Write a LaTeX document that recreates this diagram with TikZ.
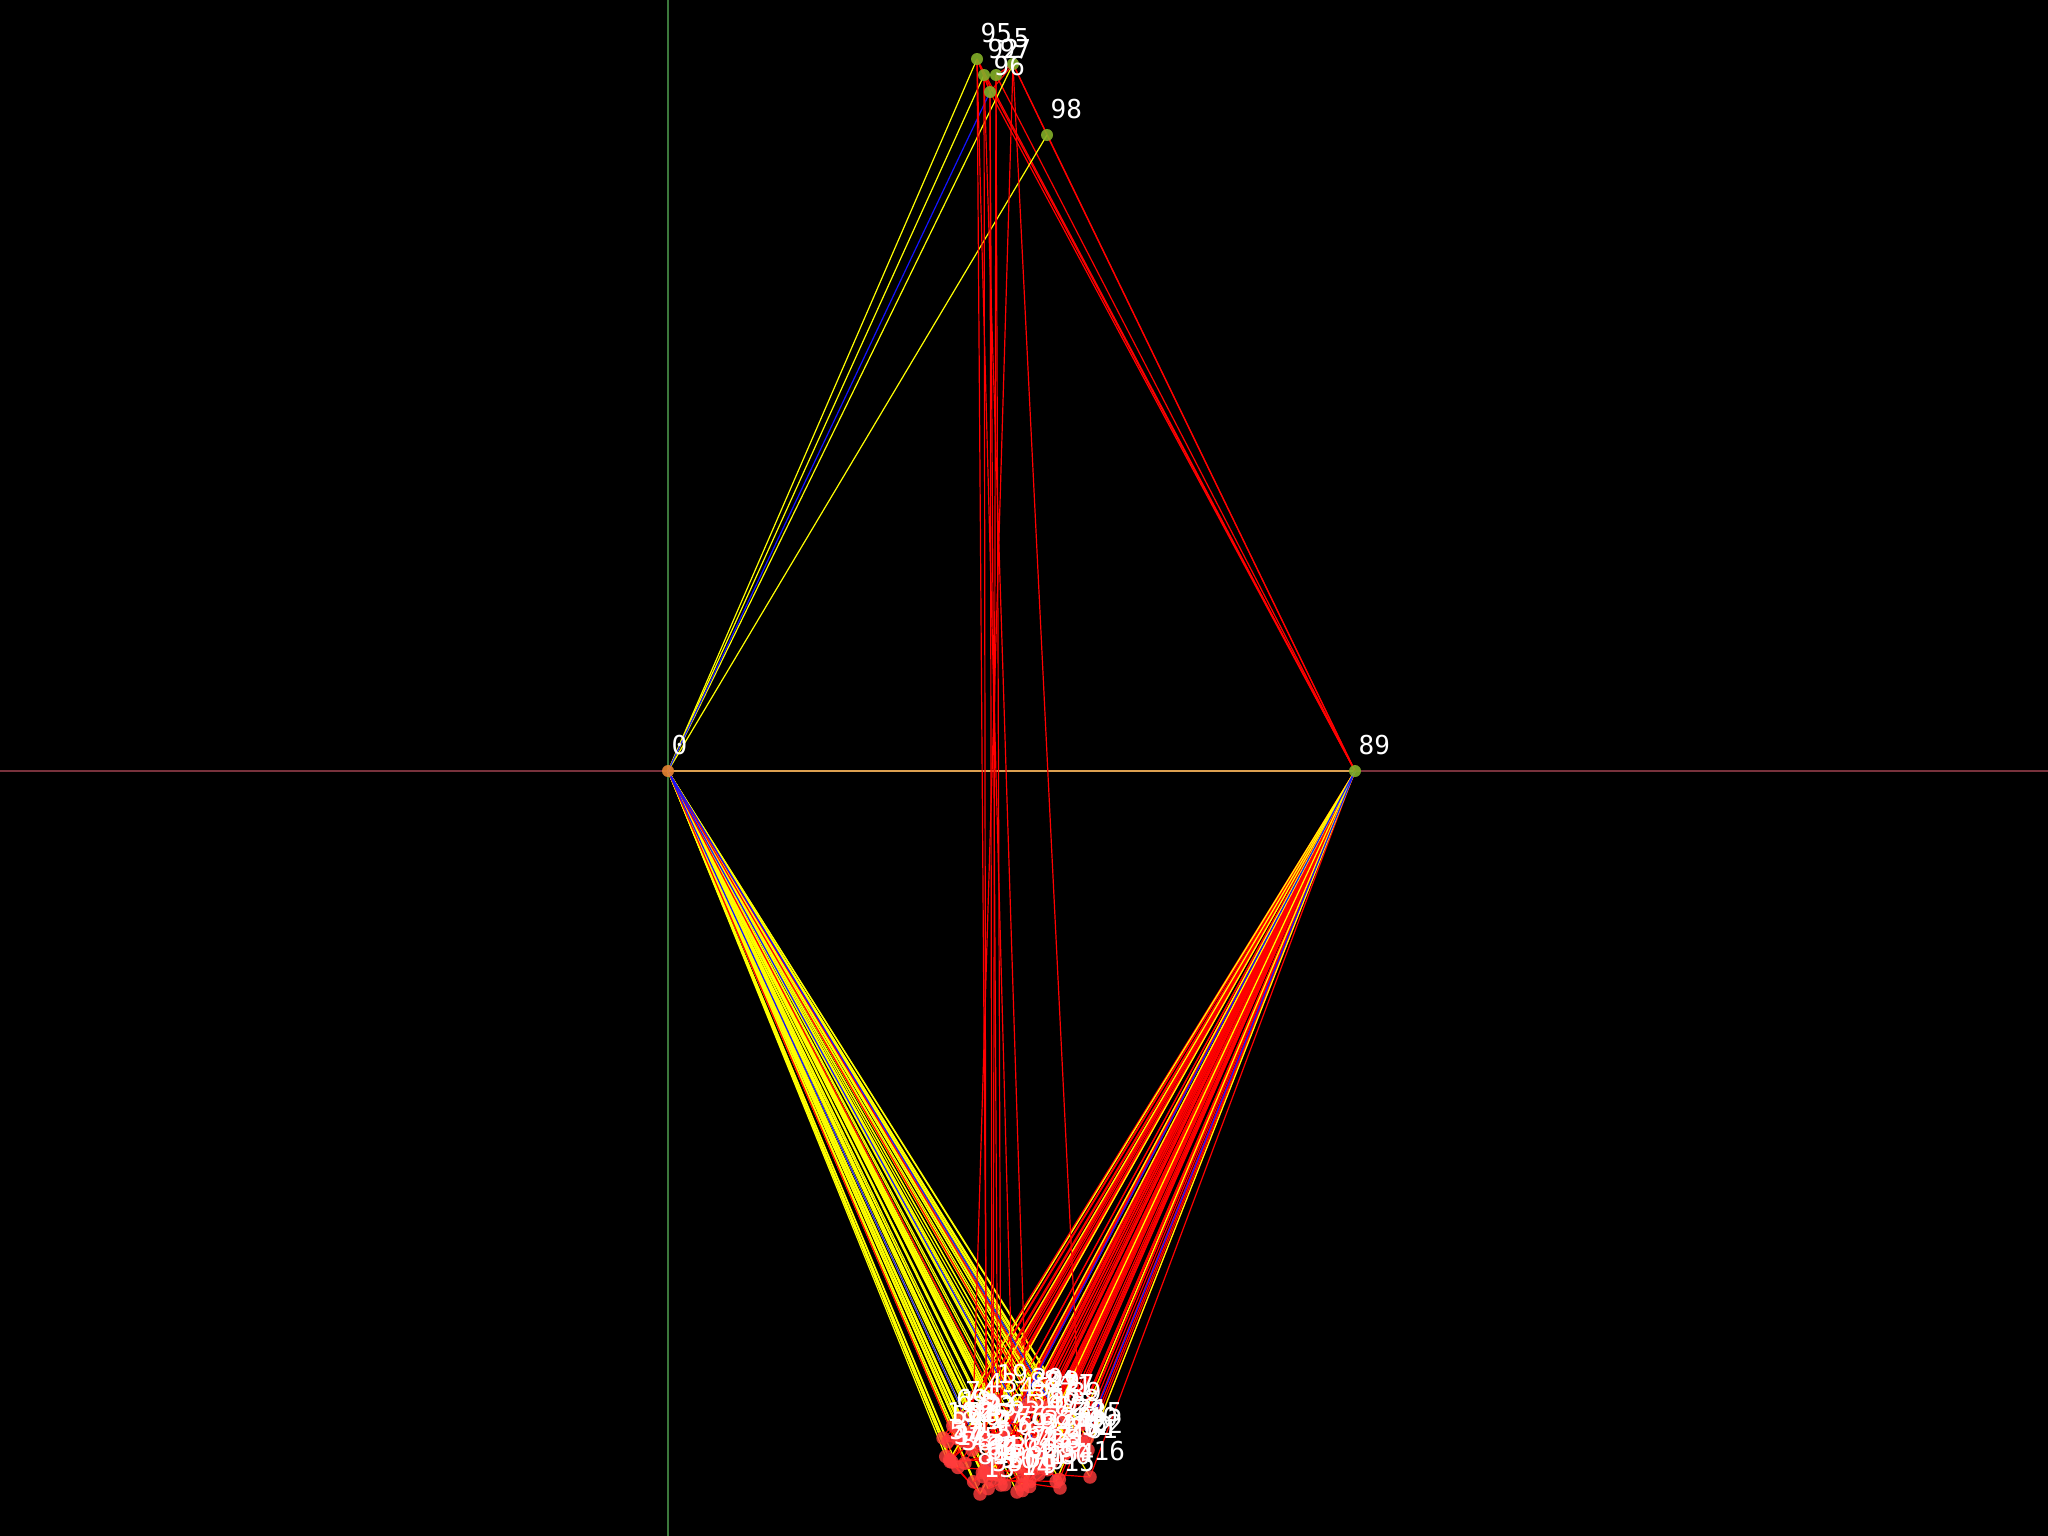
\documentclass[tikz,border=0pt]{standalone}
\usepackage{fontspec}
\newfontfamily\lblfont{DejaVu Sans Mono}
\definecolor{axh}{RGB}{120,50,60}
\definecolor{axv}{RGB}{60,120,60}
\definecolor{axe}{RGB}{220,160,80}
\definecolor{cyel}{RGB}{255,255,0}
\definecolor{cred}{RGB}{255,0,0}
\definecolor{cblue}{RGB}{20,20,255}
\definecolor{cnode}{RGB}{255,60,60}
\definecolor{ctop}{RGB}{130,175,40}
\definecolor{corg}{RGB}{230,130,50}
\pgfdeclarelayer{bg}
\pgfdeclarelayer{edges}
\pgfsetlayers{bg,edges,main}
\begin{document}
\begin{tikzpicture}[x=0.01cm,y=-0.01cm,
  ln/.style={line width=0.34pt},
  ey/.style={ln,draw=cyel},
  er/.style={ln,draw=cred},
  eb/.style={ln,draw=cblue},
  bnode/.style={circle,fill=cnode,fill opacity=0.8,inner sep=0pt,minimum size=0.135cm},
  tnode/.style={circle,fill=ctop,fill opacity=0.9,inner sep=0pt,minimum size=0.12cm},
  onode/.style={circle,fill=corg,fill opacity=0.9,inner sep=0pt,minimum size=0.12cm},
  lbl/.style={anchor=base west,inner sep=0pt,text=white,font=\lblfont\fontsize{7.4}{8}\selectfont}]
\begin{pgfonlayer}{bg}
\fill[black] (0,0) rectangle (2048,1536);
\end{pgfonlayer}
\useasboundingbox (0,0) rectangle (2048,1536);
% axis nodes
\node[onode] (n0) at (668,771) {};
\node[tnode] (n89) at (1355,771) {};
% top nodes
\node[tnode] (tA) at (977,59) {};
\node[tnode] (tB) at (984,75) {};
\node[tnode] (tC) at (996,75) {};
\node[tnode] (tD) at (1013,64) {};
\node[tnode] (tE) at (990,92) {};
\node[tnode] (tF) at (1047,135) {};
% bottom cluster: hand placed
\node[bnode] (b1) at (972,1450) {};
\node[bnode] (b2) at (987,1445) {};
\node[bnode] (b3) at (986,1462) {};
\node[bnode] (b4) at (992,1448) {};
\node[bnode] (b5) at (993,1458) {};
\node[bnode] (b6) at (1014,1452) {};
\node[bnode] (b7) at (1028,1462) {};
\node[bnode] (b8) at (1080,1425) {};
\node[bnode] (b9) at (998,1475) {};
\node[bnode] (b10) at (1001,1485) {};
\node[bnode] (b11) at (943,1438) {};
\node[bnode] (b12) at (952,1462) {};
\node[bnode] (b13) at (980,1494) {};
\node[bnode] (b14) at (1017,1492) {};
\node[bnode] (b15) at (1060,1488) {};
\node[bnode] (b16) at (1090,1477) {};
\node[bnode] (b17) at (990,1480) {};
\node[bnode] (b18) at (957,1427) {};
\node[bnode] (b19) at (993,1400) {};
\node[bnode] (b20) at (1028,1404) {};
\node[bnode] (b21) at (1073,1435) {};
\node[bnode] (b22) at (1088,1450) {};
\pgfmathsetseed{4242}
\foreach \i in {23,...,88}{
  \pgfmathsetmacro\ra{rand}
  \pgfmathsetmacro\rb{rand}
  \pgfmathsetmacro\px{1016+74*\ra}
  \pgfmathsetmacro\py{1447+46*\rb*sqrt(1-\ra*\ra)}
  \node[bnode] (b\i) at (\px,\py) {};
}
\begin{pgfonlayer}{bg}
\draw[ln,draw=axv] (668,0) -- (668,1536);
\draw[ln,draw=axh] (0,771) -- (2048,771);
\end{pgfonlayer}
\begin{pgfonlayer}{edges}
\draw[ln,draw=axe] (n0.center) -- (n89.center);
% fans
\foreach \i in {1,...,88}{
  \draw[ey] (n0.center) -- (b\i.center);
  \draw[er] (n89.center) -- (b\i.center);
}
\foreach \i in {7,30,52,75} \draw[er] (n0.center) -- (b\i.center);
\foreach \i in {15,61,83} \draw[eb] (n0.center) -- (b\i.center);
\foreach \i in {4,13,22,33,47,58,69,80} \draw[ey] (n89.center) -- (b\i.center);
\foreach \i in {40,66} \draw[eb] (n89.center) -- (b\i.center);
% cluster internal
\foreach \a/\b in {11/23,12/40,13/57,14/29,15/66,16/38,17/80,18/44,19/52,20/71,21/35,22/60,24/83,25/47,26/58,27/69,28/77,30/42,31/55,32/86,33/49,34/63,36/74,37/51,39/88,41/67,43/79,45/62,46/84,48/70,50/81,53/65,54/76,56/85,59/73,61/87,64/78,68/82,72/11,1/30,2/45,6/19,11/12,12/13,18/11}
  \draw[er] (b\a.center) -- (b\b.center);
% top to 89 and 0
\foreach \t in {tA,tB,tC,tD,tE,tF} \draw[er] (\t.center) -- (n89.center);
\foreach \t in {tA,tB,tD,tF} \draw[ey] (\t.center) -- (n0.center);
\draw[eb] (tE.center) -- (n0.center);
% top internal
\foreach \a/\b in {tA/tB,tA/tE,tC/tD,tE/tD,tB/tE,tD/tF}
  \draw[er] (\a.center) -- (\b.center);
% top to bottom
\foreach \a/\b in {tD/b1,tA/b2,tB/b3,tE/b4,tC/b5,tA/b6,tB/b7,tD/b8,tE/b9,tC/b10}
  \draw[er] (\a.center) -- (\b.center);
\end{pgfonlayer}
% labels
\node[lbl] at ([shift={(3,-17)}]n0.center) {0};
\node[lbl] at ([shift={(3,-17)}]n89.center) {89};
\node[lbl] at ([shift={(3,-17)}]tA.center) {95};
\node[lbl] at ([shift={(3,-17)}]tB.center) {92};
\node[lbl] at ([shift={(3,-17)}]tC.center) {97};
\node[lbl] at ([shift={(0,-17)}]tD.center) {5};
\node[lbl] at ([shift={(3,-17)}]tE.center) {96};
\node[lbl] at ([shift={(3,-17)}]tF.center) {98};
\foreach \i in {1,...,88}
  \node[lbl] at ([shift={(3,-17)}]b\i.center) {\i};
\end{tikzpicture}
\end{document}
